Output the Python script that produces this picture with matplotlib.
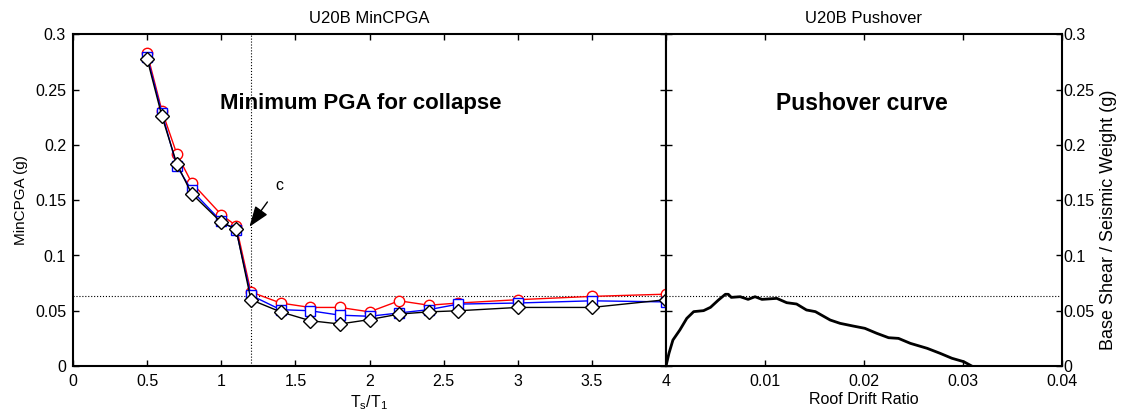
import matplotlib
matplotlib.use("Agg")
import matplotlib.pyplot as plt

plt.rcParams["font.family"] = ["Liberation Sans", "DejaVu Sans"]
plt.rcParams["mathtext.fontset"] = "custom"
plt.rcParams["mathtext.rm"] = "Liberation Sans"

# ── data ─────────────────────────────────────────────────────────────────────
ts_t1 = [0.5, 0.6, 0.7, 0.8, 1.0, 1.1, 1.2, 1.4, 1.6, 1.8, 2.0, 2.2, 2.4, 2.6, 3.0, 3.5, 4.0]
pga_red = [0.283, 0.231, 0.192, 0.166, 0.137, 0.127, 0.067, 0.057, 0.053, 0.053, 0.049,
           0.059, 0.055, 0.057, 0.060, 0.063, 0.065]
pga_blue = [0.280, 0.229, 0.181, 0.159, 0.131, 0.123, 0.064, 0.051, 0.050, 0.046, 0.045,
            0.048, 0.051, 0.056, 0.057, 0.059, 0.058]
pga_black = [0.278, 0.226, 0.183, 0.156, 0.130, 0.124, 0.060, 0.049, 0.041, 0.038, 0.042,
             0.047, 0.049, 0.050, 0.053, 0.053, 0.060]

drift = [0.0, 0.0003, 0.0007, 0.0014, 0.0021, 0.0028, 0.0038, 0.0045, 0.0053, 0.0060,
         0.0063, 0.0066, 0.0075, 0.0083, 0.0090, 0.0097, 0.0112, 0.0122, 0.0132, 0.0142,
         0.0151, 0.0166, 0.0176, 0.0189, 0.0201, 0.0213, 0.0225, 0.0235, 0.0247, 0.0264,
         0.0277, 0.0289, 0.0301, 0.0309]
shear = [0.0, 0.0115, 0.0235, 0.0326, 0.0431, 0.0492, 0.0501, 0.0531, 0.0597, 0.0649,
         0.0649, 0.0621, 0.0627, 0.0603, 0.0627, 0.0603, 0.0612, 0.0573, 0.0561, 0.0507,
         0.0492, 0.0416, 0.0386, 0.0362, 0.0341, 0.0296, 0.0256, 0.0250, 0.0205, 0.0160,
         0.0115, 0.0070, 0.0039, 0.0]

peak_shear = 0.0635
corner_ratio = 1.2

left_xticks = [0, 0.5, 1, 1.5, 2, 2.5, 3, 3.5, 4]
left_xlabels = ["0", "0.5", "1", "1.5", "2", "2.5", "3", "3.5", "4"]
right_xticks = [0, 0.01, 0.02, 0.03, 0.04]
right_xlabels = ["", "0.01", "0.02", "0.03", "0.04"]
yticks = [0, 0.05, 0.1, 0.15, 0.2, 0.25, 0.3]
ylabels = ["0", "0.05", "0.1", "0.15", "0.2", "0.25", "0.3"]

# ── figure ───────────────────────────────────────────────────────────────────
W, H = 1121, 419
fig = plt.figure(figsize=(W / 100, H / 100), dpi=100)
bot, top = 366, 34.5
ax1 = fig.add_axes([73 / W, (H - bot) / H, (666 - 73) / W, (bot - top) / H])
ax2 = fig.add_axes([666 / W, (H - bot) / H, (1061.7 - 666) / W, (bot - top) / H])

FS = 11.5
for ax in (ax1, ax2):
    for s in ax.spines.values():
        s.set_linewidth(1.5)
    ax.tick_params(direction="in", length=4, width=1.0, labelsize=FS,
                   top=True, right=True)
    ax.tick_params(axis="x", pad=6)
    ax.set_ylim(0, 0.3)
    ax.set_yticks(yticks)
    ax.axhline(peak_shear, color="black", ls=":", lw=0.8, zorder=1)

# left panel
ax1.plot(ts_t1, pga_red, "-o", color="red", lw=1.0, ms=7.5, mfc="white", mew=1.0, zorder=3)
ax1.plot(ts_t1, pga_blue, "-s", color="blue", lw=1.0, ms=7.5, mfc="white", mew=1.0, zorder=4)
ax1.plot(ts_t1, pga_black, "-D", color="black", lw=1.0, ms=7, mfc="white", mew=1.0, zorder=5)
ax1.axvline(corner_ratio, color="black", ls=":", lw=0.8, zorder=1)
ax1.set_xlim(0, 4)
ax1.set_xticks(left_xticks)
ax1.set_xticklabels(left_xlabels)
ax1.set_yticklabels(ylabels)
ax1.tick_params(axis="y", pad=5)
ax1.set_xlabel(r"$\mathregular{T_s/T_1}$", fontsize=11.5, labelpad=3)
ax1.set_ylabel("MinCPGA (g)", fontsize=11, labelpad=5)
ax1.set_title("U20B MinCPGA", fontsize=12, pad=8)
ax1.text(1.94, 0.238, "Minimum PGA for collapse", fontsize=16, fontweight="bold",
         ha="center", va="center")
ax1.annotate("c", xy=(1.19, 0.126), xytext=(1.39, 0.163), fontsize=11.5,
             ha="center", va="center",
             arrowprops=dict(arrowstyle="-|>,head_length=1.1,head_width=0.4",
                             color="black", lw=1.0, shrinkA=6, shrinkB=0))

# right panel
ax2.plot(drift, shear, color="black", lw=2.0, zorder=3)
ax2.set_xlim(0, 0.04)
ax2.set_xticks(right_xticks)
ax2.set_xticklabels(right_xlabels)
ax2.yaxis.tick_right()
ax2.tick_params(left=True, right=True, labelleft=False, labelright=True)
ax2.tick_params(axis="y", pad=1)
ax2.set_yticklabels(ylabels)
ax2.yaxis.set_label_position("right")
ax2.set_ylabel("Base Shear / Seismic Weight (g)", fontsize=13, labelpad=4)
ax2.yaxis.label.set_y(0.44)
ax2.set_xlabel("Roof Drift Ratio", fontsize=11.5, labelpad=2)
ax2.set_title("U20B Pushover", fontsize=12, pad=8)
ax2.text(0.0198, 0.238, "Pushover curve", fontsize=16.5, fontweight="bold",
         ha="center", va="center")

fig.savefig("out.png", dpi=100)
